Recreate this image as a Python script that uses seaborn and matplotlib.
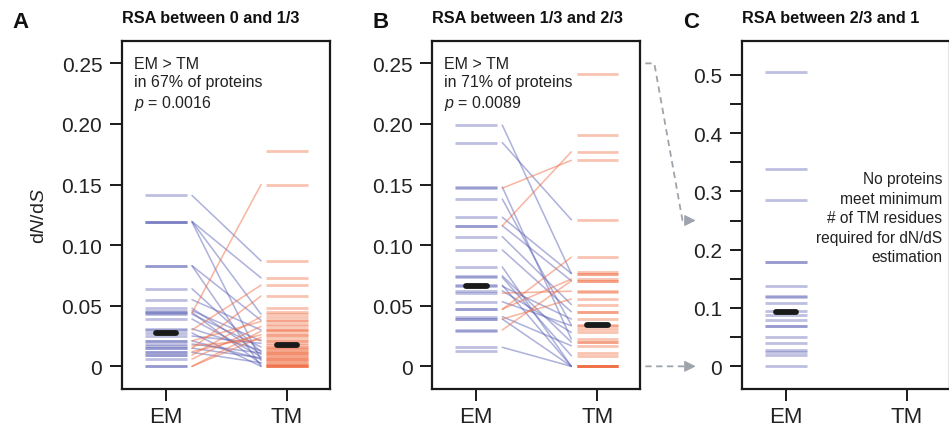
import numpy as np
import pandas as pd
import matplotlib
matplotlib.use("Agg")
import matplotlib.pyplot as plt
from matplotlib.lines import Line2D
from matplotlib.patches import FancyArrowPatch
import seaborn as sns

# ---------------- data ----------------
groups = ["EM", "TM"]
titles = ["RSA between 0 and 1/3", "RSA between 1/3 and 2/3", "RSA between 2/3 and 1"]
panel_letters = ["A", "B", "C"]

# Panel A: paired proteins (EM, TM)
A_pair_em = [0.141, 0.1195, 0.1195, 0.119, 0.083, 0.083, 0.064, 0.055, 0.048, 0.046,
             0.0445, 0.043, 0.039, 0.031, 0.0275, 0.021, 0.0184, 0.015, 0.0115, 0.025,
             0.044, 0.030, 0.0148, 0.0093, 0.006, 0.000, 0.000, 0.021, 0.012, 0.017]
A_pair_tm = [0.087, 0.073, 0.043, 0.005, 0.038, 0.000, 0.012, 0.030, 0.010, 0.021,
             0.002, 0.016, 0.008, 0.013, 0.000, 0.006, 0.011, 0.007, 0.003, 0.019,
             0.150, 0.067, 0.058, 0.041, 0.033, 0.029, 0.024, 0.037, 0.026, 0.022]
A_tm_only = [0.178, 0.048, 0.045, 0.035, 0.031, 0.027, 0.018, 0.015, 0.014, 0.009,
             0.004, 0.001, 0.0, 0.0]
A_em_only = [0.009]
A_median = [0.0275, 0.018]

# Panel B
B_pair_em = [0.199, 0.1846, 0.148, 0.138, 0.123, 0.116, 0.107, 0.096, 0.082, 0.0747,
             0.0734, 0.067, 0.066, 0.0623, 0.0533, 0.041, 0.039, 0.0157,
             0.147, 0.116, 0.047, 0.030, 0.0472, 0.039, 0.0604]
B_pair_tm = [0.0766, 0.121, 0.0225, 0.034, 0.0766, 0.0706, 0.051, 0.045, 0.000, 0.020,
             0.0088, 0.000, 0.039, 0.028, 0.0335, 0.017, 0.000, 0.000,
             0.170, 0.177, 0.090, 0.0706, 0.072, 0.0555, 0.062]
B_tm_only = [0.241, 0.191, 0.0775, 0.061, 0.045, 0.031, 0.0203, 0.011, 0.0, 0.0]
B_em_only = [0.0129, 0.029]
B_median = [0.0665, 0.034]

# Panel C (EM only)
C_em = [0.505, 0.339, 0.285, 0.179, 0.178, 0.137, 0.120, 0.119, 0.1086, 0.095,
        0.088, 0.079, 0.0697, 0.0697, 0.0497, 0.040, 0.0286, 0.024, 0.0194, 0.0]
C_median = [0.0926]

A_note = "EM > TM\nin 67% of proteins\n$p$ = 0.0016"
B_note = "EM > TM\nin 71% of proteins\n$p$ = 0.0089"
C_note = "No proteins\nmeet minimum\n# of TM residues\nrequired for dN/dS\nestimation"

# ---------------- style ----------------
sns.set_theme(style="ticks")
plt.rcParams["font.family"] = ["Liberation Sans", "DejaVu Sans"]
plt.rcParams["mathtext.fontset"] = "custom"
plt.rcParams["mathtext.it"] = "Liberation Sans:italic"
plt.rcParams["mathtext.rm"] = "Liberation Sans"

BLUE = "#5a60b4"
ORANGE = "#f06a40"
TXT = "#222222"

W, H = 949, 431
fig = plt.figure(figsize=(W / 100, H / 100), dpi=100)

def frac(l, r, t, b):
    return [l / W, 1 - b / H, (r - l) / W, (b - t) / H]

axA = fig.add_axes(frac(121.7, 330.0, 41.7, 390.0))
axB = fig.add_axes(frac(432.0, 640.3, 41.7, 390.0))
axC = fig.add_axes(frac(741.5, 949.8, 41.7, 390.0))

HALF = 0.172
XL = (-0.366, 1.355)

def draw_panel(ax, em_pairs, tm_pairs, em_only, tm_only, med):
    em_all = list(em_pairs) + list(em_only)
    tm_all = list(tm_pairs) + list(tm_only)
    if em_all:
        ax.hlines(em_all, 0 - HALF, 0 + HALF, color=BLUE, alpha=0.4, lw=2.0)
    if tm_all:
        ax.hlines(tm_all, 1 - HALF, 1 + HALF, color=ORANGE, alpha=0.4, lw=2.0)
    rows = []
    for i, (e, t) in enumerate(zip(em_pairs, tm_pairs)):
        d = "down" if e > t else "up"
        rows.append({"x": 0.215, "y": e, "pair": i, "dir": d})
        rows.append({"x": 0.785, "y": t, "pair": i, "dir": d})
    if rows:
        df = pd.DataFrame(rows)
        sns.lineplot(data=df, x="x", y="y", units="pair", estimator=None,
                     hue="dir", palette={"down": BLUE, "up": ORANGE},
                     alpha=0.48, lw=1.15, legend=False, ax=ax, sort=False)
    for k, m in enumerate(med):
        ax.plot([k - 0.085, k + 0.085], [m, m], color="#1a1a1a", lw=4.2,
                solid_capstyle="round", zorder=5)

draw_panel(axA, A_pair_em, A_pair_tm, A_em_only, A_tm_only, A_median)
draw_panel(axB, B_pair_em, B_pair_tm, B_em_only, B_tm_only, B_median)
draw_panel(axC, C_em, [], [], [], C_median)

for ax in (axA, axB, axC):
    ax.set_xlim(*XL)
    ax.set_xticks([0, 1])
    ax.set_xticklabels(groups, fontsize=16, color=TXT)
    ax.set_xlabel("")
    ax.set_ylabel("")
    for s in ax.spines.values():
        s.set_visible(True)
        s.set_linewidth(1.6)
        s.set_color("#1a1a1a")
    ax.tick_params(axis="both", length=8.5, width=1.4, color="#1a1a1a",
                   labelsize=15, labelcolor=TXT, pad=5.5)
    ax.tick_params(axis="x", pad=4, labelsize=16)

for ax in (axA, axB):
    ax.set_ylim(-0.0187, 0.2687)
    ax.set_yticks([0, 0.05, 0.10, 0.15, 0.20, 0.25])
    ax.set_yticklabels(["0", "0.05", "0.10", "0.15", "0.20", "0.25"])

axC.set_ylim(-0.0389, 0.5583)
axC.set_yticks([0, 0.1, 0.2, 0.3, 0.4, 0.5])
axC.set_yticklabels(["0", "0.1", "0.2", "0.3", "0.4", "0.5"])
axC.set_yticks([0.05, 0.15, 0.25, 0.35, 0.45], minor=True)
axC.tick_params(axis="y", which="minor", length=8.5, width=1.4, color="#1a1a1a")

axA.set_ylabel("d$\\mathit{N}$/d$\\mathit{S}$", fontsize=14, color=TXT)
axA.yaxis.set_label_coords(-0.352, 0.5)

# notes
axA.text(0.058, 0.957, A_note, transform=axA.transAxes, ha="left", va="top",
         fontsize=11.5, color=TXT, linespacing=1.28)
axB.text(0.058, 0.957, B_note, transform=axB.transAxes, ha="left", va="top",
         fontsize=11.5, color=TXT, linespacing=1.28)
fig.text(942 / W, 1 - 172 / H, C_note, ha="right", va="top", fontsize=11.2,
         color=TXT, linespacing=1.38)

# titles and panel letters
for ax, t, lx, letter in zip((axA, axB, axC), titles, (12, 372, 683), panel_letters):
    x0 = ax.get_position().x0
    fig.text(x0, 1 - 18.5 / H, t, ha="left", va="center", fontsize=11.7,
             fontweight="bold", color="#111111")
    fig.text(lx / W, 1 - 22.5 / H, letter, ha="left", va="center", fontsize=16,
             fontweight="bold", color="#111111")

# dashed grey arrows linking B to C
GREY = "#9ea4ab"
inv = fig.transFigure.inverted()
def px(ax, x_ax, y_data):
    xd = ax.transAxes.transform((x_ax, 0))[0]
    yd = ax.transData.transform((0, y_data))[1]
    return xd, yd

bx, by = px(axB, 1.0, 0.25)
cx, cy = px(axC, 0.0, 0.25)
tip = (cx - 43, cy)
path = [(bx + 5, by), (bx + 14, by), (cx - 59, cy), (tip[0] - 8, cy)]
pts = inv.transform(path)
fig.add_artist(Line2D(pts[:, 0], pts[:, 1], transform=fig.transFigure, color=GREY,
                      lw=1.3, ls=(0, (3.5, 2.5))))
fig.add_artist(FancyArrowPatch(inv.transform((tip[0] - 9, cy)), inv.transform(tip),
                               transform=fig.transFigure, arrowstyle="-|>,head_length=7,head_width=3.5",
                               color=GREY, lw=0.8, mutation_scale=1))
bx0, by0 = px(axB, 1.0, 0.0)
cx0, cy0 = px(axC, 0.0, 0.0)
pts0 = inv.transform([(bx0 + 5, by0), (cx0 - 51, cy0)])
fig.add_artist(Line2D(pts0[:, 0], pts0[:, 1], transform=fig.transFigure, color=GREY,
                      lw=1.3, ls=(0, (3.5, 2.5))))
fig.add_artist(FancyArrowPatch(inv.transform((cx0 - 52, cy0)), inv.transform((cx0 - 43, cy0)),
                               transform=fig.transFigure, arrowstyle="-|>,head_length=7,head_width=3.5",
                               color=GREY, lw=0.8, mutation_scale=1))

fig.savefig("out.png", dpi=100)
